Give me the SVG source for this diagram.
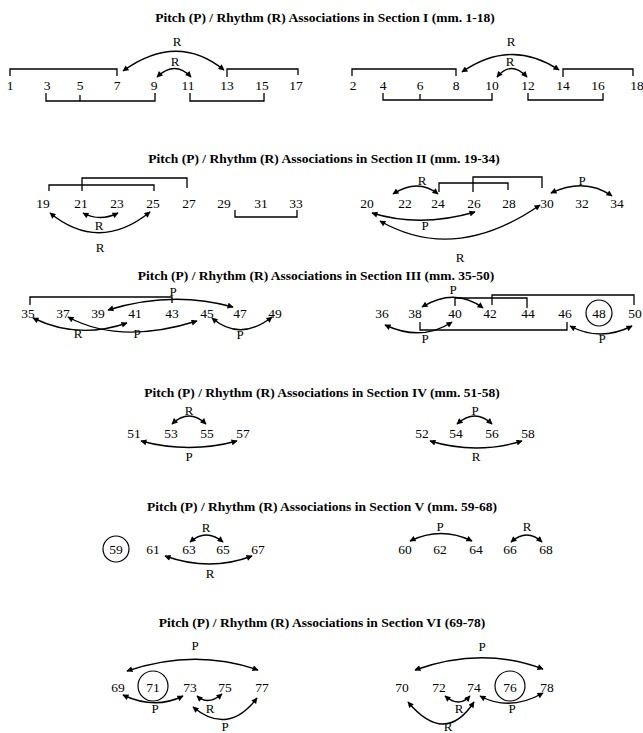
<svg xmlns="http://www.w3.org/2000/svg" width="643" height="733" viewBox="0 0 643 733">
<defs>
<marker id="ah" viewBox="0 0 10 10" refX="9" refY="5" markerWidth="8" markerHeight="6" orient="auto-start-reverse" markerUnits="userSpaceOnUse"><path d="M0,0 L10,5 L0,10 z" fill="#000"/></marker>
<style>
text{font-family:"Liberation Serif","Times New Roman",serif;fill:#000}
.t{font-size:13.5px;font-weight:bold;text-anchor:middle}
.n{font-size:13.5px;text-anchor:middle}
.l{font-size:13px;text-anchor:middle}
.br{fill:none;stroke:#000;stroke-width:1.3}
.a2{fill:none;stroke:#000;stroke-width:1.4;marker-start:url(#ah);marker-end:url(#ah)}
.c{fill:none;stroke:#000;stroke-width:1.2}
</style>
</defs>
<rect width="643" height="733" fill="#fff"/>

<g id="titles">
<text class="t" x="325" y="22">Pitch (P) / Rhythm (R) Associations in Section I (mm. 1-18)</text>
<text class="t" x="324" y="163">Pitch (P) / Rhythm (R) Associations in Section II (mm. 19-34)</text>
<text class="t" x="316" y="280">Pitch (P) / Rhythm (R) Associations in Section III (mm. 35-50)</text>
<text class="t" x="322" y="397">Pitch (P) / Rhythm (R) Associations in Section IV (mm. 51-58)</text>
<text class="t" x="322" y="511">Pitch (P) / Rhythm (R) Associations in Section V (mm. 59-68)</text>
<text class="t" x="322" y="627">Pitch (P) / Rhythm (R) Associations in Section VI (69-78)</text>
</g>

<!-- Section I nodes -->
<g id="s1-nodes">
<g id="m1"><text class="n" x="10" y="90">1</text></g>
<g id="m3"><text class="n" x="47" y="90">3</text></g>
<g id="m5"><text class="n" x="80" y="90">5</text></g>
<g id="m7"><text class="n" x="117" y="90">7</text></g>
<g id="m9"><text class="n" x="154" y="90">9</text></g>
<g id="m11"><text class="n" x="188" y="90">11</text></g>
<g id="m13"><text class="n" x="227" y="90">13</text></g>
<g id="m15"><text class="n" x="262" y="90">15</text></g>
<g id="m17"><text class="n" x="296" y="90">17</text></g>
<g id="m2"><text class="n" x="353" y="90">2</text></g>
<g id="m4"><text class="n" x="383" y="90">4</text></g>
<g id="m6"><text class="n" x="420" y="90">6</text></g>
<g id="m8"><text class="n" x="456" y="90">8</text></g>
<g id="m10"><text class="n" x="492" y="90">10</text></g>
<g id="m12"><text class="n" x="528" y="90">12</text></g>
<g id="m14"><text class="n" x="563" y="90">14</text></g>
<g id="m16"><text class="n" x="598" y="90">16</text></g>
<g id="m18"><text class="n" x="637" y="90">18</text></g>
</g>

<!-- Section II nodes -->
<g id="s2-nodes">
<g id="m19"><text class="n" x="43" y="208">19</text></g>
<g id="m21"><text class="n" x="81" y="208">21</text></g>
<g id="m23"><text class="n" x="117" y="208">23</text></g>
<g id="m25"><text class="n" x="153" y="208">25</text></g>
<g id="m27"><text class="n" x="189" y="208">27</text></g>
<g id="m29"><text class="n" x="224" y="208">29</text></g>
<g id="m31"><text class="n" x="261" y="208">31</text></g>
<g id="m33"><text class="n" x="296" y="208">33</text></g>
<g id="m20"><text class="n" x="367" y="208">20</text></g>
<g id="m22"><text class="n" x="405" y="208">22</text></g>
<g id="m24"><text class="n" x="438" y="208">24</text></g>
<g id="m26"><text class="n" x="474" y="208">26</text></g>
<g id="m28"><text class="n" x="509" y="208">28</text></g>
<g id="m30"><text class="n" x="547" y="208">30</text></g>
<g id="m32"><text class="n" x="582" y="208">32</text></g>
<g id="m34"><text class="n" x="617" y="208">34</text></g>
</g>

<!-- Section III nodes -->
<g id="s3-nodes">
<g id="m35"><text class="n" x="28" y="318">35</text></g>
<g id="m37"><text class="n" x="63" y="318">37</text></g>
<g id="m39"><text class="n" x="98" y="318">39</text></g>
<g id="m41"><text class="n" x="135" y="318">41</text></g>
<g id="m43"><text class="n" x="172" y="318">43</text></g>
<g id="m45"><text class="n" x="207" y="318">45</text></g>
<g id="m47"><text class="n" x="240" y="318">47</text></g>
<g id="m49"><text class="n" x="275" y="318">49</text></g>
<g id="m36"><text class="n" x="382" y="318">36</text></g>
<g id="m38"><text class="n" x="415" y="318">38</text></g>
<g id="m40"><text class="n" x="455" y="318">40</text></g>
<g id="m42"><text class="n" x="490" y="318">42</text></g>
<g id="m44"><text class="n" x="528" y="318">44</text></g>
<g id="m46"><text class="n" x="565" y="318">46</text></g>
<g id="m48"><circle class="c" cx="599" cy="313" r="13"/><text class="n" x="599" y="318">48</text></g>
<g id="m50"><text class="n" x="635" y="318">50</text></g>
</g>

<!-- Section IV nodes -->
<g id="s4-nodes">
<g id="m51"><text class="n" x="134" y="438">51</text></g>
<g id="m53"><text class="n" x="171" y="438">53</text></g>
<g id="m55"><text class="n" x="207" y="438">55</text></g>
<g id="m57"><text class="n" x="243" y="438">57</text></g>
<g id="m52"><text class="n" x="422" y="438">52</text></g>
<g id="m54"><text class="n" x="456" y="438">54</text></g>
<g id="m56"><text class="n" x="492" y="438">56</text></g>
<g id="m58"><text class="n" x="528" y="438">58</text></g>
</g>

<!-- Section V nodes -->
<g id="s5-nodes">
<g id="m59"><circle class="c" cx="116" cy="549" r="13"/><text class="n" x="116" y="554">59</text></g>
<g id="m61"><text class="n" x="153" y="554">61</text></g>
<g id="m63"><text class="n" x="189" y="554">63</text></g>
<g id="m65"><text class="n" x="223" y="554">65</text></g>
<g id="m67"><text class="n" x="258" y="554">67</text></g>
<g id="m60"><text class="n" x="405" y="554">60</text></g>
<g id="m62"><text class="n" x="440" y="554">62</text></g>
<g id="m64"><text class="n" x="476" y="554">64</text></g>
<g id="m66"><text class="n" x="510" y="554">66</text></g>
<g id="m68"><text class="n" x="546" y="554">68</text></g>
</g>

<!-- Section VI nodes -->
<g id="s6-nodes">
<g id="m69"><text class="n" x="118" y="692">69</text></g>
<g id="m71"><circle class="c" cx="153" cy="686" r="15"/><text class="n" x="153" y="692">71</text></g>
<g id="m73"><text class="n" x="190" y="692">73</text></g>
<g id="m75"><text class="n" x="225" y="692">75</text></g>
<g id="m77"><text class="n" x="262" y="692">77</text></g>
<g id="m70"><text class="n" x="402" y="692">70</text></g>
<g id="m72"><text class="n" x="439" y="692">72</text></g>
<g id="m74"><text class="n" x="474" y="692">74</text></g>
<g id="m76"><circle class="c" cx="510" cy="686" r="15"/><text class="n" x="510" y="692">76</text></g>
<g id="m78"><text class="n" x="547" y="692">78</text></g>
</g>

<g id="connectors">
<!-- Section I -->
<path class="br" d="M10,76 V69 H117 V76"/>
<path class="br" d="M227,77 V69 H298 V75"/>
<path class="br" d="M46,93 V101 H155 V93 M80,101 V95"/>
<path class="br" d="M190,93 V101 H264 V93"/>
<path class="a2" d="M123,71 Q177,32 224,70"/>
<path class="a2" d="M157,77 Q175,60 191,77"/>
<path class="br" d="M352,76 V69 H456 V76"/>
<path class="br" d="M563,77 V69 H633 V76"/>
<path class="br" d="M383,93 V100 H492 V93 M420,100 V94"/>
<path class="br" d="M528,93 V100 H603 V93"/>
<path class="a2" d="M462,72 Q511,38 559,70"/>
<path class="a2" d="M497,77 Q511,60 527,77"/>
<!-- Section II -->
<path class="br" d="M49,191 V185 H154 V191"/>
<path class="br" d="M82,191 V178 H187 V188"/>
<path class="br" d="M235,210 V217 H297 V210"/>
<path class="a2" d="M83,213 Q100,222 118,213"/>
<path class="a2" d="M50,213 Q99,253 150,212"/>
<path class="br" d="M439,192 V183 H508 V190"/>
<path class="br" d="M473,192 V177 H542 V188"/>
<path class="a2" d="M393,194 Q418,178 438,194"/>
<path class="a2" d="M551,193 Q585,177 612,196"/>
<path class="a2" d="M372,213 Q420,228 475,212"/>
<path class="a2" d="M380,221 Q455,264 540,205"/>
<!-- Section III -->
<path class="br" d="M30,305 V297 H172 V303"/>
<path class="a2" d="M108,310 Q172,290 233,307"/>
<path class="a2" d="M33,318 Q78,340 127,323"/>
<path class="a2" d="M68,317 Q120,345 197,321"/>
<path class="a2" d="M212,318 Q240,342 272,317"/>
<path class="br" d="M492,305 V295 H634 V305"/>
<path class="br" d="M455,306 V298 H527 V308"/>
<path class="a2" d="M422,307 Q455,287 483,308"/>
<path class="br" d="M420,322 V330 H567 V322"/>
<path class="a2" d="M385,325 Q422,342 452,322"/>
<path class="a2" d="M570,326 Q600,342 632,326"/>
<!-- Section IV -->
<path class="a2" d="M172,424 Q189,408 206,424"/>
<path class="a2" d="M141,441 Q189,454 237,441"/>
<path class="a2" d="M457,424 Q475,408 492,424"/>
<path class="a2" d="M430,441 Q476,455 522,441"/>
<!-- Section V -->
<path class="a2" d="M190,542 Q206,528 223,542"/>
<path class="a2" d="M165,556 Q210,572 252,556"/>
<path class="a2" d="M410,541 Q441,526 472,541"/>
<path class="a2" d="M511,542 Q527,528 542,542"/>
<!-- Section VI -->
<path class="a2" d="M127,671 Q195,648 258,670"/>
<path class="a2" d="M123,695 Q155,710 183,696"/>
<path class="a2" d="M197,696 Q208,706 222,694"/>
<path class="a2" d="M193,707 Q228,736 257,698"/>
<path class="a2" d="M415,670 Q482,646 543,669"/>
<path class="a2" d="M445,696 Q459,708 470,696"/>
<path class="a2" d="M480,696 Q510,712 543,693"/>
<path class="a2" d="M408,702 Q445,746 474,702"/>
</g>

<g id="labels">
<text class="l" x="177" y="46">R</text>
<text class="l" x="175" y="66">R</text>
<text class="l" x="511" y="46">R</text>
<text class="l" x="510" y="66">R</text>
<text class="l" x="99" y="230">R</text>
<text class="l" x="100" y="252">R</text>
<text class="l" x="422" y="185">R</text>
<text class="l" x="582" y="185">P</text>
<text class="l" x="425" y="230">P</text>
<text class="l" x="460" y="262">R</text>
<text class="l" x="173" y="296">P</text>
<text class="l" x="78" y="338">R</text>
<text class="l" x="137" y="338">P</text>
<text class="l" x="240" y="339">P</text>
<text class="l" x="453" y="294">P</text>
<text class="l" x="425" y="343">P</text>
<text class="l" x="602" y="343">P</text>
<text class="l" x="189" y="415">R</text>
<text class="l" x="189" y="461">P</text>
<text class="l" x="475" y="415">P</text>
<text class="l" x="476" y="461">R</text>
<text class="l" x="206" y="532">R</text>
<text class="l" x="210" y="578">R</text>
<text class="l" x="440" y="531">P</text>
<text class="l" x="527" y="531">R</text>
<text class="l" x="195" y="650">P</text>
<text class="l" x="155" y="713">P</text>
<text class="l" x="210" y="713">R</text>
<text class="l" x="225" y="731">P</text>
<text class="l" x="482" y="651">P</text>
<text class="l" x="459" y="713">R</text>
<text class="l" x="512" y="713">P</text>
<text class="l" x="448" y="731">R</text>
</g>
</svg>
